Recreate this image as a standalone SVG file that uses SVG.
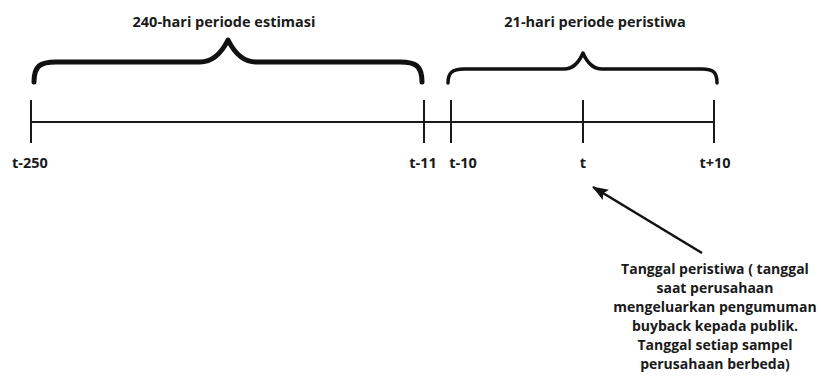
<svg xmlns="http://www.w3.org/2000/svg" width="821" height="378" viewBox="0 0 821 378">
<style>
text{font-family:"Open Sans","Liberation Sans",sans-serif;font-weight:700;fill:#1a1a1a;text-anchor:middle}
.title{font-size:14.5px}
.lbl{font-size:14.5px}
.body{font-size:14px}
.axis{stroke:#1a1a1a;stroke-width:2;fill:none}
.brace{stroke:#111;fill:none;stroke-linecap:round;stroke-linejoin:round}
</style>
<defs>
<marker id="ah" viewBox="0 0 16 12" refX="15" refY="6" markerWidth="16" markerHeight="12" orient="auto" markerUnits="userSpaceOnUse">
<path d="M0,0 L16,6 L0,12 L3,6 z" fill="#111"/>
</marker>
</defs>
<rect width="821" height="378" fill="#fff"/>
<g id="timeline">
<line class="axis" x1="31" y1="122" x2="714" y2="122"/>
<line class="axis" x1="31" y1="100" x2="31" y2="143"/>
<line class="axis" x1="424" y1="100" x2="424" y2="143"/>
<line class="axis" x1="451" y1="100" x2="451" y2="143"/>
<line class="axis" x1="583" y1="100" x2="583" y2="143"/>
<line class="axis" x1="714" y1="100" x2="714" y2="143"/>
</g>
<g id="brace-estimasi">
<path class="brace" stroke-width="5" d="M34,82 C34,66 40,62 56,62 L200,62 C214,62 222,52 228,40 C234,52 242,62 256,62 L400,62 C416,62 422,66 422,82"/>
<text class="title" x="224" y="27">240-hari periode estimasi</text>
</g>
<g id="brace-peristiwa">
<path class="brace" stroke-width="3.5" d="M448,83 C448,73 452,69 464,69 L564,69 C574,69 580,60 583,53 C586,60 592,69 602,69 L702,69 C714,69 717,73 717,83"/>
<text class="title" x="595" y="27">21-hari periode peristiwa</text>
</g>
<g id="labels">
<text class="lbl" x="30" y="168">t-250</text>
<text class="lbl" x="423" y="168">t-11</text>
<text class="lbl" x="463" y="168">t-10</text>
<text class="lbl" x="583" y="168">t</text>
<text class="lbl" x="715" y="168">t+10</text>
</g>
<g id="connectors">
<line x1="702" y1="253" x2="593" y2="187" stroke="#111" stroke-width="2.5" marker-end="url(#ah)"/>
</g>
<g id="note">
<text class="body" x="715" y="274">Tanggal peristiwa ( tanggal</text>
<text class="body" x="715" y="293">saat perusahaan</text>
<text class="body" x="715" y="312">mengeluarkan pengumuman</text>
<text class="body" x="715" y="331">buyback kepada publik.</text>
<text class="body" x="715" y="350">Tanggal setiap sampel</text>
<text class="body" x="715" y="369">perusahaan berbeda)</text>
</g>
</svg>
